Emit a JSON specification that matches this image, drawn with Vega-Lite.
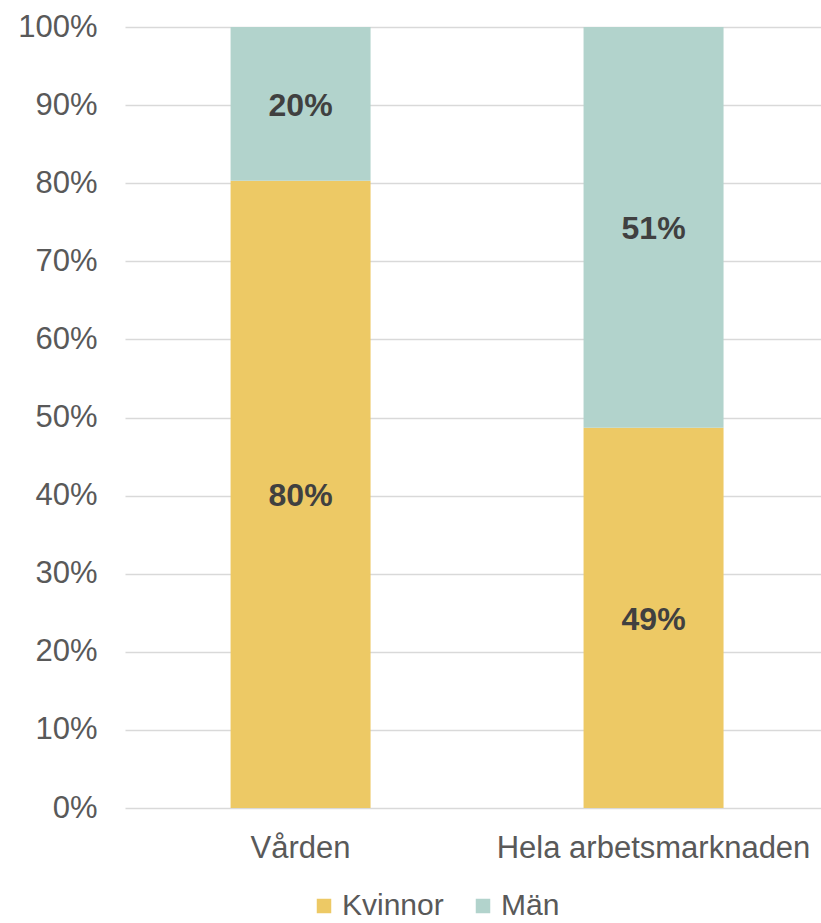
{
  "$schema": "https://vega.github.io/schema/vega-lite/v6.json",
  "autosize": {"type": "none"},
  "width": 696,
  "height": 781,
  "padding": {"left": 125, "top": 27, "right": 0, "bottom": 115},
  "background": "white",
  "config": {
    "view": {"stroke": null},
    "font": "Liberation Sans",
    "axis": {"labelFont": "Liberation Sans", "labelColor": "#595959", "labelFontSize": 31, "title": null, "domain": false, "ticks": false, "labelLimit": 0},
    "legend": {"labelFont": "Liberation Sans", "labelColor": "#595959", "labelFontSize": 30, "labelLimit": 0}
  },
  "data": {
    "values": [
      {"cat": "Vården", "sex": "Kvinnor", "value": 0.803},
      {"cat": "Vården", "sex": "Män", "value": 0.197},
      {"cat": "Hela arbetsmarknaden", "sex": "Kvinnor", "value": 0.487},
      {"cat": "Hela arbetsmarknaden", "sex": "Män", "value": 0.513}
    ]
  },
  "transform": [
    {"stack": "value", "groupby": ["cat"], "sort": [{"field": "sex", "order": "ascending"}], "as": ["v0", "v1"]},
    {"calculate": "(datum.v0 + datum.v1) / 2", "as": "mid"}
  ],
  "encoding": {
    "x": {
      "field": "cat", "type": "nominal", "sort": ["Vården", "Hela arbetsmarknaden"],
      "scale": {"paddingInner": 0.6034, "paddingOuter": 0.2876, "align": 0.52},
      "axis": {"labelAngle": 0, "labelPadding": 25, "grid": false}
    }
  },
  "layer": [
    {
      "mark": {"type": "bar"},
      "encoding": {
        "y": {"field": "v0", "type": "quantitative", "scale": {"domain": [0, 1]},
          "axis": {"format": ".0%", "values": [0,0.1,0.2,0.3,0.4,0.5,0.6,0.7,0.8,0.9,1], "grid": true, "gridColor": "#D9D9D9", "gridWidth": 1.5, "labelPadding": 28}},
        "y2": {"field": "v1"},
        "color": {
          "field": "sex", "type": "nominal",
          "scale": {"domain": ["Kvinnor", "Män"], "range": ["#EDC965", "#B2D3CC"]},
          "legend": {"title": null, "orient": "none", "direction": "horizontal", "legendX": 184, "legendY": 864, "symbolType": "square", "symbolSize": 210, "symbolStrokeWidth": 0, "columnPadding": 24, "labelOffset": 3}
        }
      }
    },
    {
      "mark": {"type": "text", "fontWeight": "bold", "fontSize": 32, "color": "#404040", "font": "Liberation Sans", "dy": 2},
      "encoding": {
        "y": {"field": "mid", "type": "quantitative"},
        "text": {"field": "value", "type": "quantitative", "format": ".0%"}
      }
    }
  ]
}
